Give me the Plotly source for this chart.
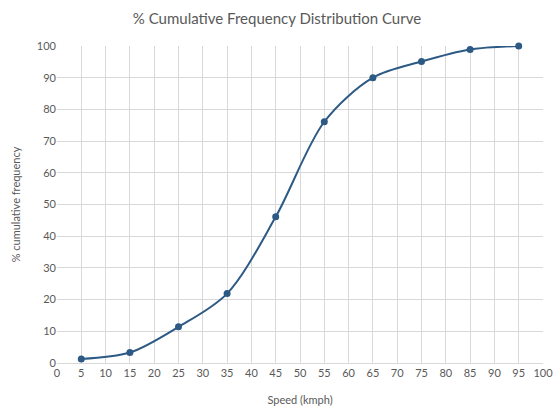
import plotly.graph_objects as go

speed = [5, 15, 25, 35, 45, 55, 65, 75, 85, 95]
cum_freq = [1.3, 3.3, 11.4, 21.9, 46.1, 76.1, 90.0, 95.1, 98.9, 100.0]
x_ticks = list(range(0, 101, 5))
y_ticks = list(range(0, 101, 10))

line_color = "#2d5985"
text_color = "#595959"
grid_color = "#d9d9d9"
font_family = "Lato, 'Open Sans', sans-serif"

fig = go.Figure(go.Scatter(
    x=speed, y=cum_freq, mode="lines+markers", cliponaxis=False,
    line=dict(color=line_color, width=2, shape="spline", smoothing=0.9),
    marker=dict(color=line_color, size=7),
))

fig.update_layout(
    width=554, height=410,
    margin=dict(l=57, r=11, t=46, b=47, autoexpand=False),
    paper_bgcolor="white", plot_bgcolor="white",
    showlegend=False,
    font=dict(family=font_family, color=text_color, size=12),
    title=dict(text="% Cumulative Frequency Distribution Curve",
               x=0.5, xanchor="center", y=0.955, yanchor="middle",
               font=dict(size=15, color=text_color, family=font_family)),
)
fig.update_xaxes(
    range=[0, 100], tickvals=x_ticks, ticktext=[str(v) for v in x_ticks],
    showgrid=True, gridcolor=grid_color, gridwidth=1,
    zeroline=False, showline=True, linecolor=grid_color,
    ticks="", tickfont=dict(size=11, color=text_color),
    title=dict(text="Speed (kmph)", font=dict(size=11, color=text_color), standoff=18),
    automargin=False, fixedrange=True,
)
fig.update_yaxes(
    range=[0, 100], tickvals=y_ticks, ticktext=[str(v) for v in y_ticks],
    showgrid=True, gridcolor=grid_color, gridwidth=1,
    zeroline=False, showline=False,
    ticks="", tickfont=dict(size=11, color=text_color),
    title=dict(text="% cumulative frequency", font=dict(size=11, color=text_color), standoff=14),
    automargin=False, fixedrange=True,
)

fig.write_html("out.html")
